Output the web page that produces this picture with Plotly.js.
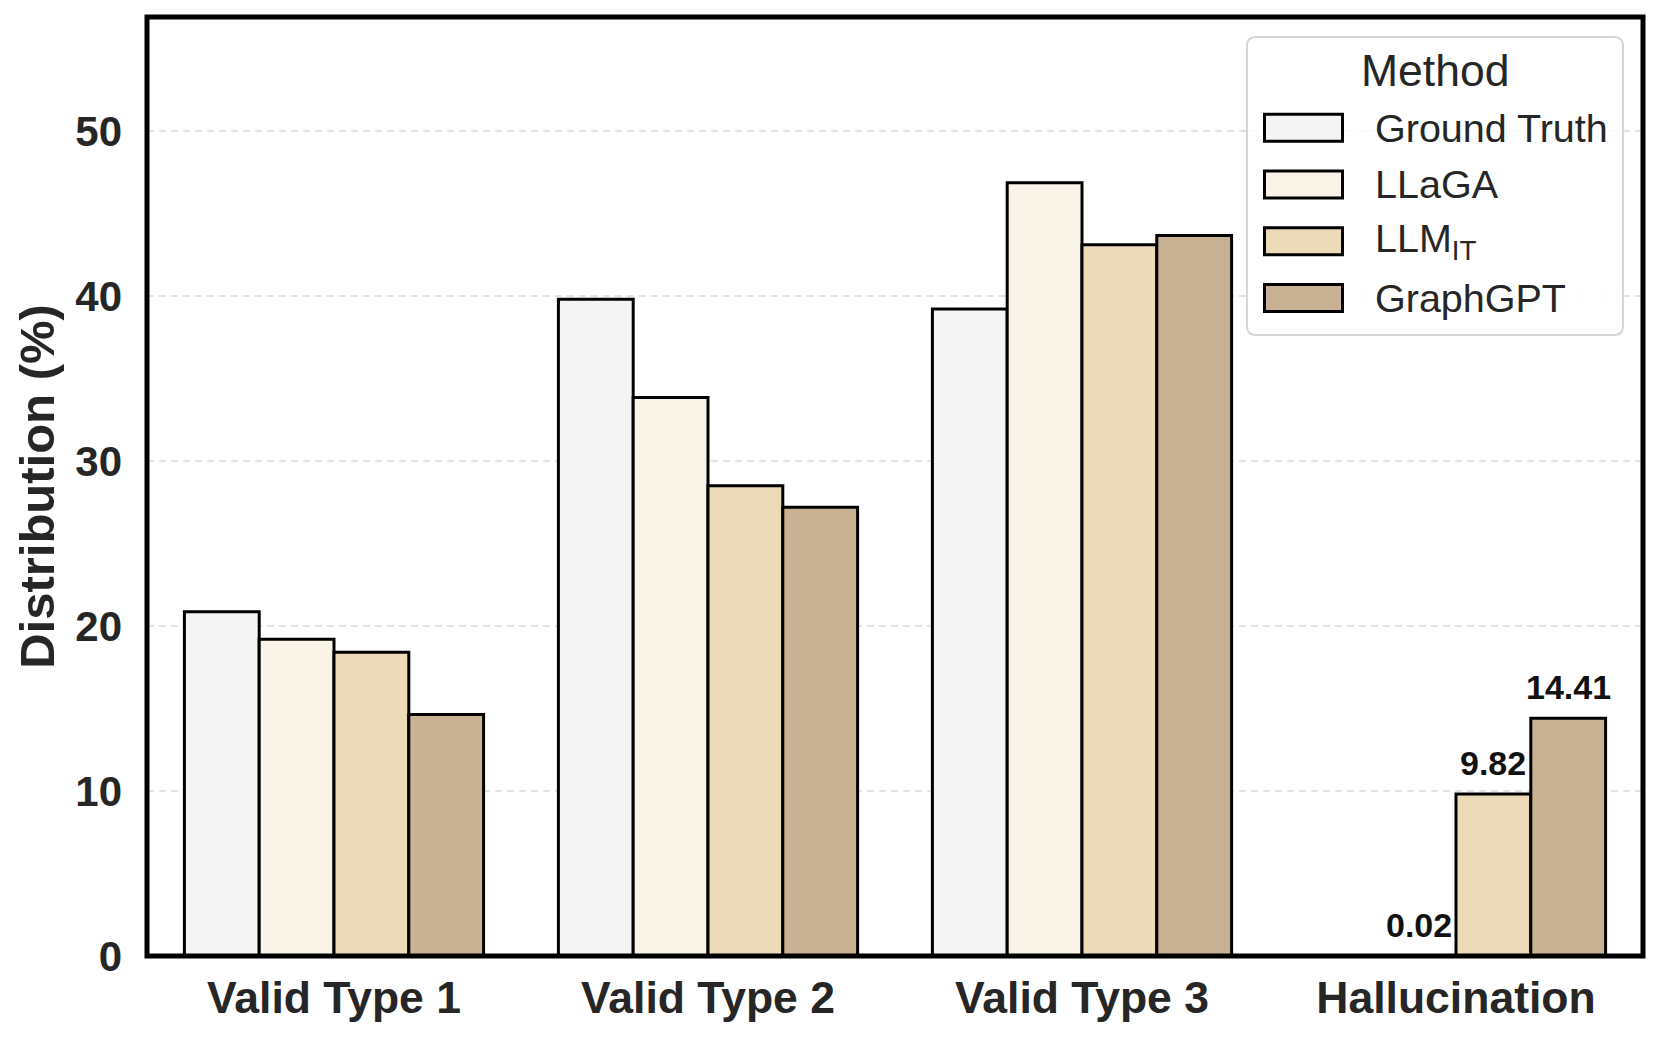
<!DOCTYPE html>
<html>
<head>
<meta charset="utf-8">
<script src="https://cdn.plot.ly/plotly-3.0.1.min.js"></script>
<style>
html,body{margin:0;padding:0;background:#ffffff;}
#chart{width:1661px;height:1039px;}
</style>
</head>
<body>
<div id="chart"></div>
<script>
// ---- data ----
const categories = ['Valid Type 1', 'Valid Type 2', 'Valid Type 3', 'Hallucination'];
const seriesNames = ['Ground Truth', 'LLaGA', 'LLM<sub>IT</sub>', 'GraphGPT'];
const groundTruth = [20.86, 39.8, 39.2, 0];
const llaga = [19.19, 33.84, 46.85, 0.02];
const llmIT = [18.4, 28.5, 43.1, 9.82];
const graphGPT = [14.63, 27.2, 43.66, 14.41];
const yTickValues = [0, 10, 20, 30, 40, 50];
const yAxisTitle = 'Distribution (%)';
const legendTitle = 'Method';
const labeledCategory = 'Hallucination';

// ---- styles ----
const seriesValues = [groundTruth, llaga, llmIT, graphGPT];
const colors = ['#F4F4F4', '#FAF3E8', '#EDDAB9', '#C8B293'];
const FONT = 'Liberation Sans, Arial, Helvetica, sans-serif';
const TEXT = '#262626';
const W = 1661, H = 1039;
const M = {l: 147, r: 18, t: 17, b: 83};
const BARGAP = 0.2;
const px2x = px => (px - M.l) / (W - M.l - M.r);
const px2y = py => (H - M.b - py) / (H - M.t - M.b);

const traces = seriesNames.map((name, i) => ({
  type: 'bar',
  name: name,
  x: categories,
  y: seriesValues[i],
  marker: {color: colors[i], line: {color: '#000000', width: 3}},
  hoverinfo: 'x+y+name',
  showlegend: false
}));

// value labels for the labelled category
const annotations = [];
const ci = categories.indexOf(labeledCategory);
const n = seriesNames.length;
seriesValues.forEach((vals, si) => {
  const v = vals[ci];
  if (v > 0) {
    annotations.push({
      xref: 'x', yref: 'y',
      x: ci + (si - (n - 1) / 2) * (1 - BARGAP) / n,
      y: v,
      text: '<b>' + v.toFixed(2) + '</b>',
      showarrow: false,
      xanchor: 'center', yanchor: 'bottom', yshift: 10,
      font: {family: FONT, size: 34, color: '#111111'}
    });
  }
});

// legend (drawn manually for matching symbol size)
function roundedRectPath(x0, y0, x1, y1, r) {
  const X = px2x, Y = px2y;
  return `M${X(x0 + r)},${Y(y0)} L${X(x1 - r)},${Y(y0)} Q${X(x1)},${Y(y0)} ${X(x1)},${Y(y0 + r)} ` +
         `L${X(x1)},${Y(y1 - r)} Q${X(x1)},${Y(y1)} ${X(x1 - r)},${Y(y1)} ` +
         `L${X(x0 + r)},${Y(y1)} Q${X(x0)},${Y(y1)} ${X(x0)},${Y(y1 - r)} ` +
         `L${X(x0)},${Y(y0 + r)} Q${X(x0)},${Y(y0)} ${X(x0 + r)},${Y(y0)} Z`;
}
const shapes = [];
shapes.push({
  type: 'path', xref: 'paper', yref: 'paper', layer: 'above',
  path: roundedRectPath(1247, 37, 1623, 335, 9),
  fillcolor: 'rgba(255,255,255,0.8)',
  line: {color: '#d6d6d6', width: 2}
});
annotations.push({
  xref: 'paper', yref: 'paper', x: px2x(1435), y: px2y(70),
  xanchor: 'center', yanchor: 'middle', showarrow: false,
  text: legendTitle, font: {family: FONT, size: 44.5, color: TEXT}
});
seriesNames.forEach((name, i) => {
  const cy = 127.8 + i * 56.7;
  shapes.push({
    type: 'rect', xref: 'paper', yref: 'paper', layer: 'above',
    x0: px2x(1264.5), x1: px2x(1342.5), y0: px2y(cy - 13.5), y1: px2y(cy + 13.5),
    fillcolor: colors[i], line: {color: '#000000', width: 3}
  });
  annotations.push({
    xref: 'paper', yref: 'paper', x: px2x(1373), y: px2y(cy),
    xanchor: 'left', yanchor: 'middle', showarrow: false,
    text: name, font: {family: FONT, size: 39.5, color: TEXT}
  });
});
// frame
shapes.push({
  type: 'rect', xref: 'paper', yref: 'paper', layer: 'above',
  x0: 0, x1: 1, y0: 0, y1: 1,
  line: {color: '#000000', width: 5}
});

const layout = {
  width: W, height: H,
  margin: M,
  paper_bgcolor: '#ffffff', plot_bgcolor: '#ffffff',
  barmode: 'group', bargap: BARGAP, bargroupgap: 0,
  showlegend: false,
  font: {family: FONT, color: TEXT},
  xaxis: {
    type: 'category',
    range: [-0.5, categories.length - 0.5],
    showgrid: false, zeroline: false, showline: false, ticks: '',
    ticklabelstandoff: 11,
    tickfont: {family: FONT, size: 44.5, color: TEXT, weight: 'bold'}
  },
  yaxis: {
    range: [0, 56.9],
    tickvals: yTickValues,
    showgrid: true, gridcolor: '#e3e3e3', gridwidth: 2, griddash: '7px,5px',
    zeroline: false, showline: false, ticks: '',
    ticklabelstandoff: 24,
    tickfont: {family: FONT, size: 42, color: TEXT, weight: 'bold'},
    title: {text: yAxisTitle, standoff: 5, font: {family: FONT, size: 49, color: TEXT, weight: 'bold'}}
  },
  shapes: shapes,
  annotations: annotations
};

Plotly.newPlot('chart', traces, layout, {displayModeBar: false, staticPlot: true});
</script>
</body>
</html>
